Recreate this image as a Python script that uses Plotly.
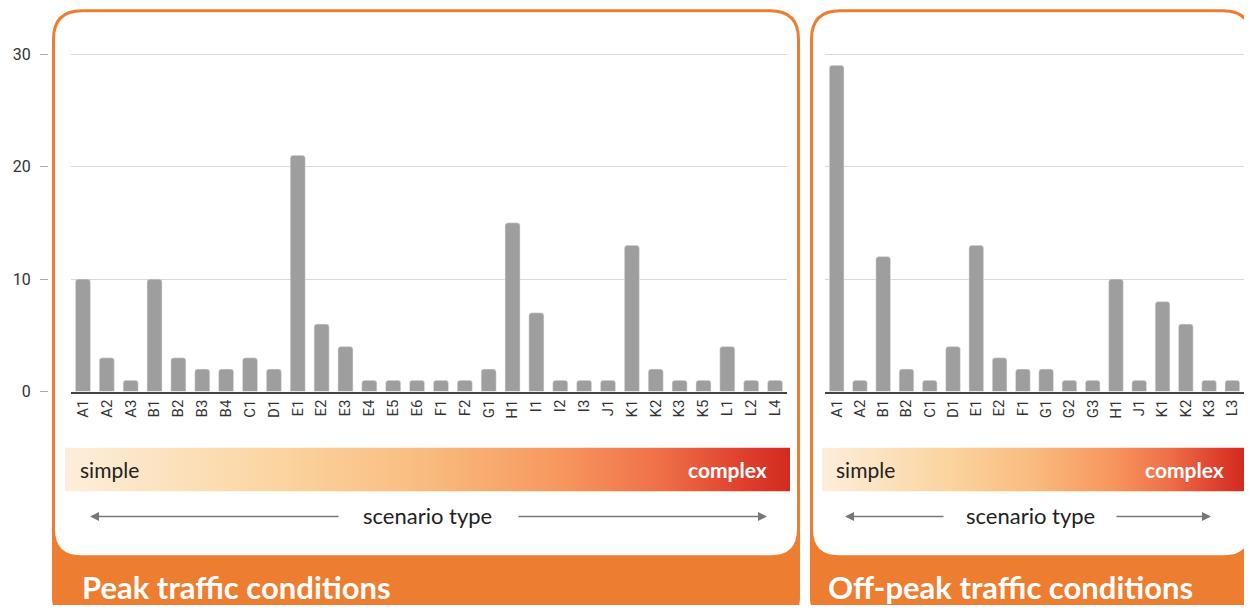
import plotly.graph_objects as go

# the page adds an 8px body margin round the figure
W, H = 1236, 597
OFF = 8
YS = 0.985  # small vertical correction found by comparing renders

peak_labels = ["A1", "A2", "A3", "B1", "B2", "B3", "B4", "C1", "D1", "E1", "E2", "E3", "E4", "E5", "E6",
               "F1", "F2", "G1", "H1", "I1", "I2", "I3", "J1", "K1", "K2", "K3", "K5", "L1", "L2", "L4"]
peak_values = [10, 3, 1, 10, 3, 2, 2, 3, 2, 21, 6, 4, 1, 1, 1,
               1, 1, 2, 15, 7, 1, 1, 1, 13, 2, 1, 1, 4, 1, 1]

offpeak_labels = ["A1", "A2", "B1", "B2", "C1", "D1", "E1", "E2", "F1", "G1", "G2", "G3",
                  "H1", "J1", "K1", "K2", "K3", "L3"]
offpeak_values = [29, 1, 12, 2, 1, 4, 13, 3, 2, 2, 1, 1, 10, 1, 8, 6, 1, 1]

y_ticks = [0, 10, 20, 30]
panel_titles = ["Peak traffic conditions", "Off-peak traffic conditions"]

ORANGE = "#ed7d31"
BAR = "#9e9e9e"
grad = [[0, "#fdeedb"], [0.3, "#fbd49f"], [0.5, "#f9bb7e"], [0.68, "#f7985f"],
        [0.82, "#ef7048"], [0.94, "#de3e2c"], [1, "#d22a1f"]]


def px(x):
    return (x - OFF) / W


def py(y):
    return 1 - ((y - 7.7) / YS) / H


def dom(a, b):
    return [max(0, a), min(1, b)]


def rrect(x0, y0, x1, y1, rt, rb):
    # rounded rectangle path in paper coords (screen pixel input)
    pts = [
        f"M {px(x0 + rt)} {py(y0)}",
        f"L {px(x1 - rt)} {py(y0)}",
        f"Q {px(x1)} {py(y0)} {px(x1)} {py(y0 + rt)}",
        f"L {px(x1)} {py(y1 - rb)}",
        f"Q {px(x1)} {py(y1)} {px(x1 - rb)} {py(y1)}",
        f"L {px(x0 + rb)} {py(y1)}",
        f"Q {px(x0)} {py(y1)} {px(x0)} {py(y1 - rb)}",
        f"L {px(x0)} {py(y0 + rt)}",
        f"Q {px(x0)} {py(y0)} {px(x0 + rt)} {py(y0)}",
        "Z",
    ]
    return " ".join(pts)


fig = go.Figure()

fig.add_trace(go.Bar(x=peak_labels, y=peak_values, marker_color=BAR, xaxis="x", yaxis="y"))
fig.add_trace(go.Bar(x=offpeak_labels, y=offpeak_values, marker_color=BAR, xaxis="x2", yaxis="y2"))

# gradient strips
for xa, ya in [("x3", "y3"), ("x4", "y4")]:
    fig.add_trace(go.Scatter(x=[0, 1, 1, 0, 0], y=[0, 0, 1, 1, 0], mode="lines", fill="toself",
                             line=dict(width=0), fillgradient=dict(type="horizontal", colorscale=grad),
                             xaxis=xa, yaxis=ya, hoverinfo="skip"))

y_dom = dom(py(392), py(392 - 31 * 11.27))
tickfont = dict(family="Roboto", size=15, color="#333")
hidden = dict(visible=False, range=[0, 1], fixedrange=True)

fig.update_layout(
    width=W, height=H,
    margin=dict(l=0, r=0, t=0, b=0),
    paper_bgcolor="white", plot_bgcolor="rgba(0,0,0,0)",
    showlegend=False, bargap=0.37, barcornerradius=3,
    xaxis=dict(domain=dom(px(71), px(787)), tickangle=-90, tickfont=tickfont, showline=True,
               linecolor="#444", linewidth=2, ticks="", showgrid=False, fixedrange=True),
    yaxis=dict(domain=y_dom, range=[0, 31], tickvals=y_ticks, anchor="free", position=px(48),
               ticks="outside", ticklen=8, tickcolor="#aaa", showgrid=True, gridcolor="#d9d9d9",
               zeroline=False, showline=False, tickfont=dict(family="Roboto", size=16, color="#333"),
               ticklabelstandoff=6),
    xaxis2=dict(domain=dom(px(825), px(1245)), anchor="y2", tickangle=-90, tickfont=tickfont,
                showline=True, linecolor="#444", linewidth=2, ticks="", showgrid=False),
    yaxis2=dict(domain=y_dom, range=[0, 31], tickvals=y_ticks, anchor="x2", showticklabels=False,
                showgrid=True, gridcolor="#d9d9d9", zeroline=False),
    xaxis3=dict(domain=dom(px(65), px(790)), anchor="y3", **hidden),
    yaxis3=dict(domain=dom(py(492), py(448)), anchor="x3", **hidden),
    xaxis4=dict(domain=dom(px(822), px(1244)), anchor="y4", **hidden),
    yaxis4=dict(domain=dom(py(492), py(448)), anchor="x4", **hidden),
)

# panel frames
shapes = []
for (x0, x1) in [(52, 800), (810, 1253)]:
    shapes.append(dict(type="path", xref="paper", yref="paper", layer="below",
                       path=rrect(x0, 9, x1, 622, 30, 24), fillcolor=ORANGE, line=dict(width=0)))
    shapes.append(dict(type="path", xref="paper", yref="paper", layer="below",
                       path=rrect(x0 + 3, 12, x1 - 3, 556, 27, 26), fillcolor="white", line=dict(width=0)))
fig.update_layout(shapes=shapes)

ann = []
for (gx0, gx1, cx, al, ar) in [(78, 769, 427, 340, 517), (834, 1226, 1030, 945, 1115)]:
    ann.append(dict(x=px(gx0), y=py(470), text="simple", xanchor="left",
                    font=dict(family="Lato", size=21, color="#222")))
    ann.append(dict(x=px(gx1), y=py(470), text="<b>complex</b>", xanchor="right",
                    font=dict(family="Lato", size=21, color="white")))
    ann.append(dict(x=px(cx), y=py(516), text="scenario type", xanchor="center",
                    font=dict(family="Lato", size=22, color="#222")))
    left_end = gx0 + 12 if gx0 < 800 else gx0 + 11
    right_end = gx1 - 2 if gx0 < 800 else gx1 - 15
    for tip, tail in [(left_end, al), (right_end, ar)]:
        ann.append(dict(x=px(tip), y=py(517), text="", showarrow=True, ax=tail - tip, ay=0,
                        axref="pixel", ayref="pixel", arrowhead=2, arrowsize=1.2,
                        arrowwidth=1.5, arrowcolor="#777"))
for title, tx in zip(panel_titles, [80, 826]):
    ann.append(dict(x=px(tx), y=py(588), text=f"<b>{title}</b>", xanchor="left",
                    font=dict(family="Lato", size=31, color="white")))
for a in ann:
    a.setdefault("showarrow", False)
    a.update(xref="paper", yref="paper", yanchor="middle")
fig.update_layout(annotations=ann)

fig.write_html("out.html")
